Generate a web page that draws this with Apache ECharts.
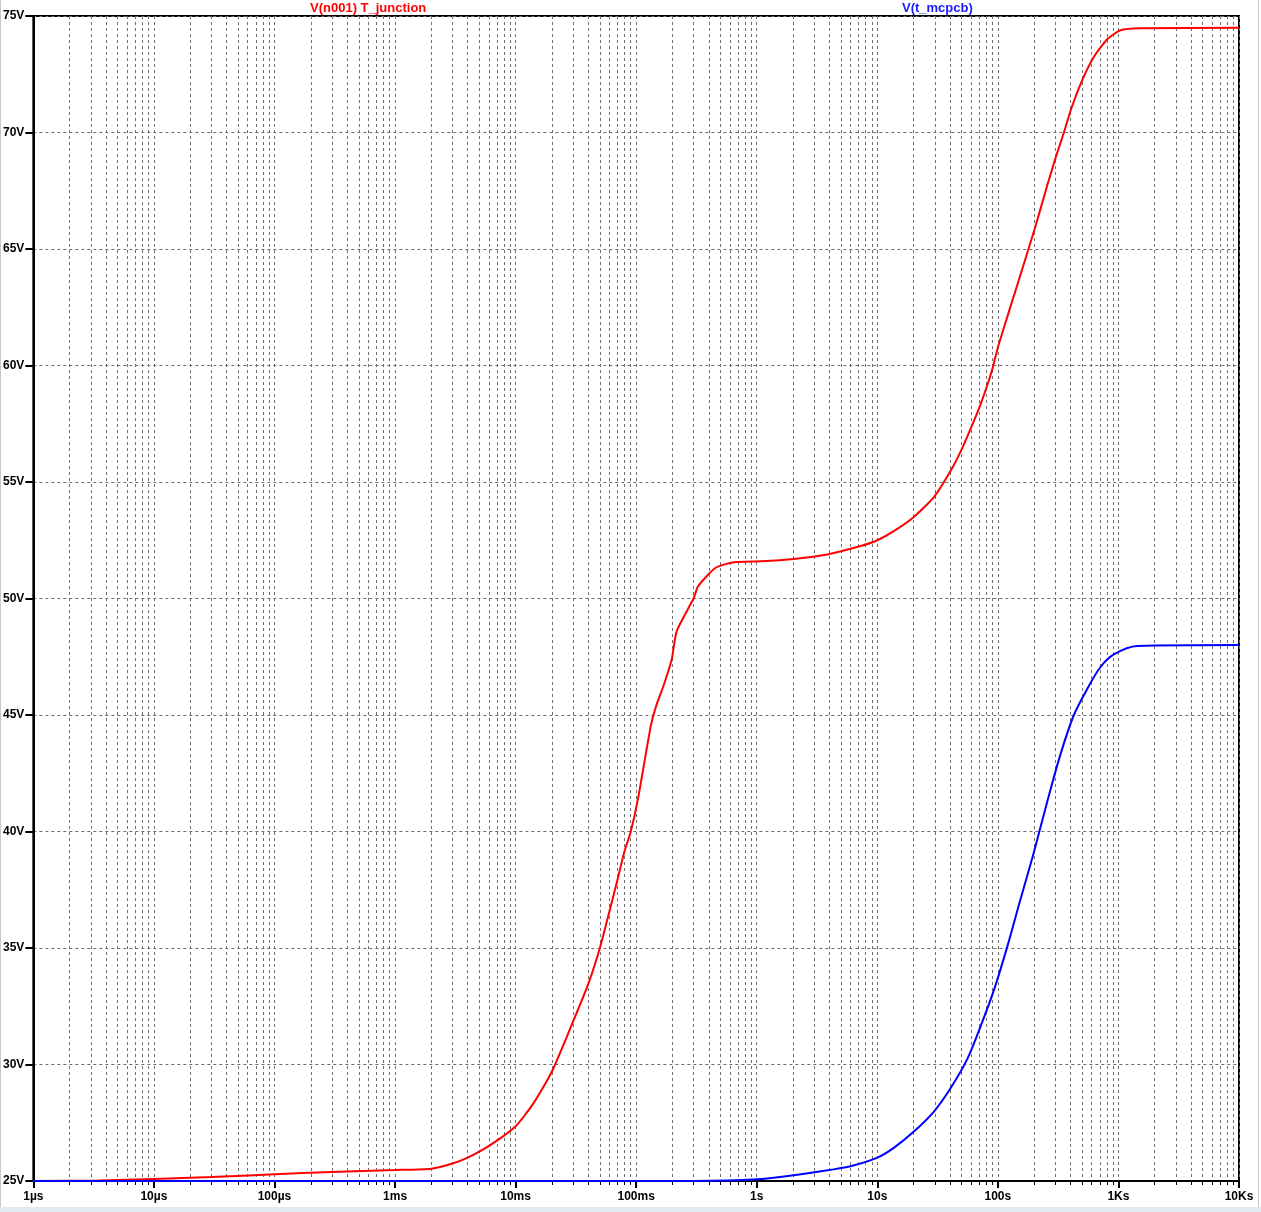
<!DOCTYPE html>
<html>
<head>
<meta charset="utf-8">
<script src="https://cdn.jsdelivr.net/npm/echarts@6/dist/echarts.min.js"></script>
<style>
html,body{margin:0;padding:0;background:#fff;}
#c{width:1261px;height:1212px;}
</style>
</head>
<body>
<div id="c"></div>
<script>
// ---- data (time in seconds, value in volts) ----
const seriesNames = ['V(n001) T_junction', 'V(t_mcpcb)'];

const junctionTime = [1e-6, 3.5e-6, 1e-5, 3e-5, 1e-4, 3e-4, 1e-3, 2e-3, 3e-3, 4e-3, 6.2e-3, 1e-2, 1.4e-2, 2e-2,
  3e-2, 4e-2, 5e-2, 6e-2, 7e-2, 8e-2, 9e-2, 0.1035, 0.132, 0.146, 0.170, 0.197, 0.217, 0.301, 0.3265, 0.456,
  0.647, 1.077, 2.03, 3.85, 7.26, 10, 13.7, 20.1, 29.5, 40.8, 50.3, 60.9, 70.9, 81, 91, 101, 145, 203, 257,
  303, 353, 406, 501, 625, 807, 1040, 1524, 1e4];
const junctionVolt = [25.0, 25.02, 25.09, 25.17, 25.29, 25.39, 25.47, 25.53, 25.75, 26.0, 26.55, 27.35, 28.32, 29.7,
  31.85, 33.45, 35.0, 36.57, 37.93, 39.15, 39.98, 41.4, 44.51, 45.37, 46.31, 47.38, 48.6, 50.03, 50.53, 51.32,
  51.56, 51.60, 51.70, 51.89, 52.25, 52.5, 52.89, 53.5, 54.35, 55.5, 56.42, 57.42, 58.26, 59.10, 59.94, 60.86, 63.46, 65.9, 67.74,
  68.96, 70.0, 71.02, 72.25, 73.24, 74.0, 74.39, 74.47, 74.5];

const mcpcbTime = [1e-6, 0.3, 1, 2.03, 4.12, 6.1, 10, 13.7, 20.1, 29.5, 40.6, 55.7, 71.9, 92.7, 119.7, 154,
  199, 257, 331, 427, 551, 710, 916, 1432, 1e4];
const mcpcbVolt = [25.0, 25.0, 25.07, 25.25, 25.48, 25.64, 26.0, 26.42, 27.12, 27.98, 28.99, 30.23, 31.64, 33.19, 35.06, 37.09,
  39.11, 41.29, 43.32, 45.0, 46.12, 47.06, 47.60, 47.96, 48.0];

// ---- axis ticks ----
const decadeExp = [-6, -5, -4, -3, -2, -1, 0, 1, 2, 3, 4];
const decadeLabels = ['1µs', '10µs', '100µs', '1ms', '10ms', '100ms', '1s', '10s', '100s', '1Ks', '10Ks'];
const minorMult = [2, 3, 4, 5, 6, 7, 8, 9];
const yMin = 25, yMax = 75, yStep = 5;

const minorExp = [];
decadeExp.slice(0, -1).forEach(e => minorMult.forEach(m => minorExp.push(e + Math.log10(m))));

const FONT = 'Liberation Sans, Arial, sans-serif';
const gridLine = { show: true, lineStyle: { color: '#6e6e6e', width: 1, type: [3, 3] } };

const chart = echarts.init(document.getElementById('c'), null, { renderer: 'canvas' });
chart.setOption({
  animation: false,
  backgroundColor: '#ffffff',
  graphic: [
    { type: 'rect', silent: true, z: -1, shape: { x: 0, y: 1207, width: 1261, height: 5 }, style: { fill: '#e4eaf2' } },
    { type: 'line', silent: true, shape: { x1: 0.5, y1: 0, x2: 0.5, y2: 1207 }, style: { stroke: '#c8c8c8', lineWidth: 1 } },
    { type: 'line', silent: true, shape: { x1: 1258.5, y1: 0, x2: 1258.5, y2: 1207 }, style: { stroke: '#c8c8c8', lineWidth: 1 } }
  ],
  legend: [
    { data: [{ name: seriesNames[0], textStyle: { color: '#ff0000' } }], left: 305, top: 2, padding: 0,
      itemWidth: 0, itemHeight: 12, icon: 'rect', selectedMode: false,
      textStyle: { fontFamily: FONT, fontWeight: 'bold', fontSize: 13 } },
    { data: [{ name: seriesNames[1], textStyle: { color: '#1a1aff' } }], left: 897, top: 2, padding: 0,
      itemWidth: 0, itemHeight: 12, icon: 'rect', selectedMode: false,
      textStyle: { fontFamily: FONT, fontWeight: 'bold', fontSize: 13 } }
  ],
  grid: { left: 32, top: 16, right: 22, bottom: 31, show: true, borderColor: '#000', borderWidth: 2, backgroundColor: '#fff', containLabel: false },
  xAxis: [
    { type: 'log', logBase: 10, min: 1e-6, max: 1e4, position: 'bottom',
      axisLine: { show: true, onZero: false, lineStyle: { color: '#000', width: 2 } },
      axisTick: { show: false }, axisLabel: { show: false }, splitLine: { show: false } },
    { type: 'value', min: -6, max: 4, interval: 1, position: 'bottom', offset: 0,
      axisLine: { show: false, onZero: false },
      axisTick: { show: true, length: 7, lineStyle: { color: '#000', width: 2 } },
      axisLabel: { show: true, margin: 10, color: '#000', fontFamily: FONT, fontWeight: 'bold', fontSize: 12,
        showMinLabel: true, showMaxLabel: true,
        formatter: v => decadeLabels[decadeExp.indexOf(Math.round(v))] },
      splitLine: gridLine },
    { type: 'value', min: -6, max: 4, position: 'bottom', offset: 0,
      axisLine: { show: false, onZero: false },
      axisTick: { show: true, length: 4, customValues: minorExp, lineStyle: { color: '#000', width: 1 } },
      axisLabel: { show: false },
      splitLine: gridLine }
  ],
  yAxis: {
    type: 'value', min: yMin, max: yMax, interval: yStep,
    axisLine: { show: true, onZero: false, lineStyle: { color: '#000', width: 2 } },
    axisTick: { show: true, length: 8, lineStyle: { color: '#000', width: 2 } },
    axisLabel: { margin: 9, color: '#000', fontFamily: FONT, fontWeight: 'bold', fontSize: 12, formatter: '{value}V' },
    splitLine: gridLine
  },
  series: [
    { name: seriesNames[0], type: 'line', xAxisIndex: 0, symbol: 'none', showSymbol: false,
      smooth: 0.2,
      color: '#ff0000', lineStyle: { color: '#ff0000', width: 2 }, emphasis: { disabled: true },
      data: junctionTime.map((t, i) => [t, junctionVolt[i]]) },
    { name: seriesNames[1], type: 'line', xAxisIndex: 0, symbol: 'none', showSymbol: false,
      smooth: 0.3,
      color: '#0000ff', lineStyle: { color: '#0000ff', width: 2 }, emphasis: { disabled: true },
      data: mcpcbTime.map((t, i) => [t, mcpcbVolt[i]]) }
  ]
});
</script>
</body>
</html>
